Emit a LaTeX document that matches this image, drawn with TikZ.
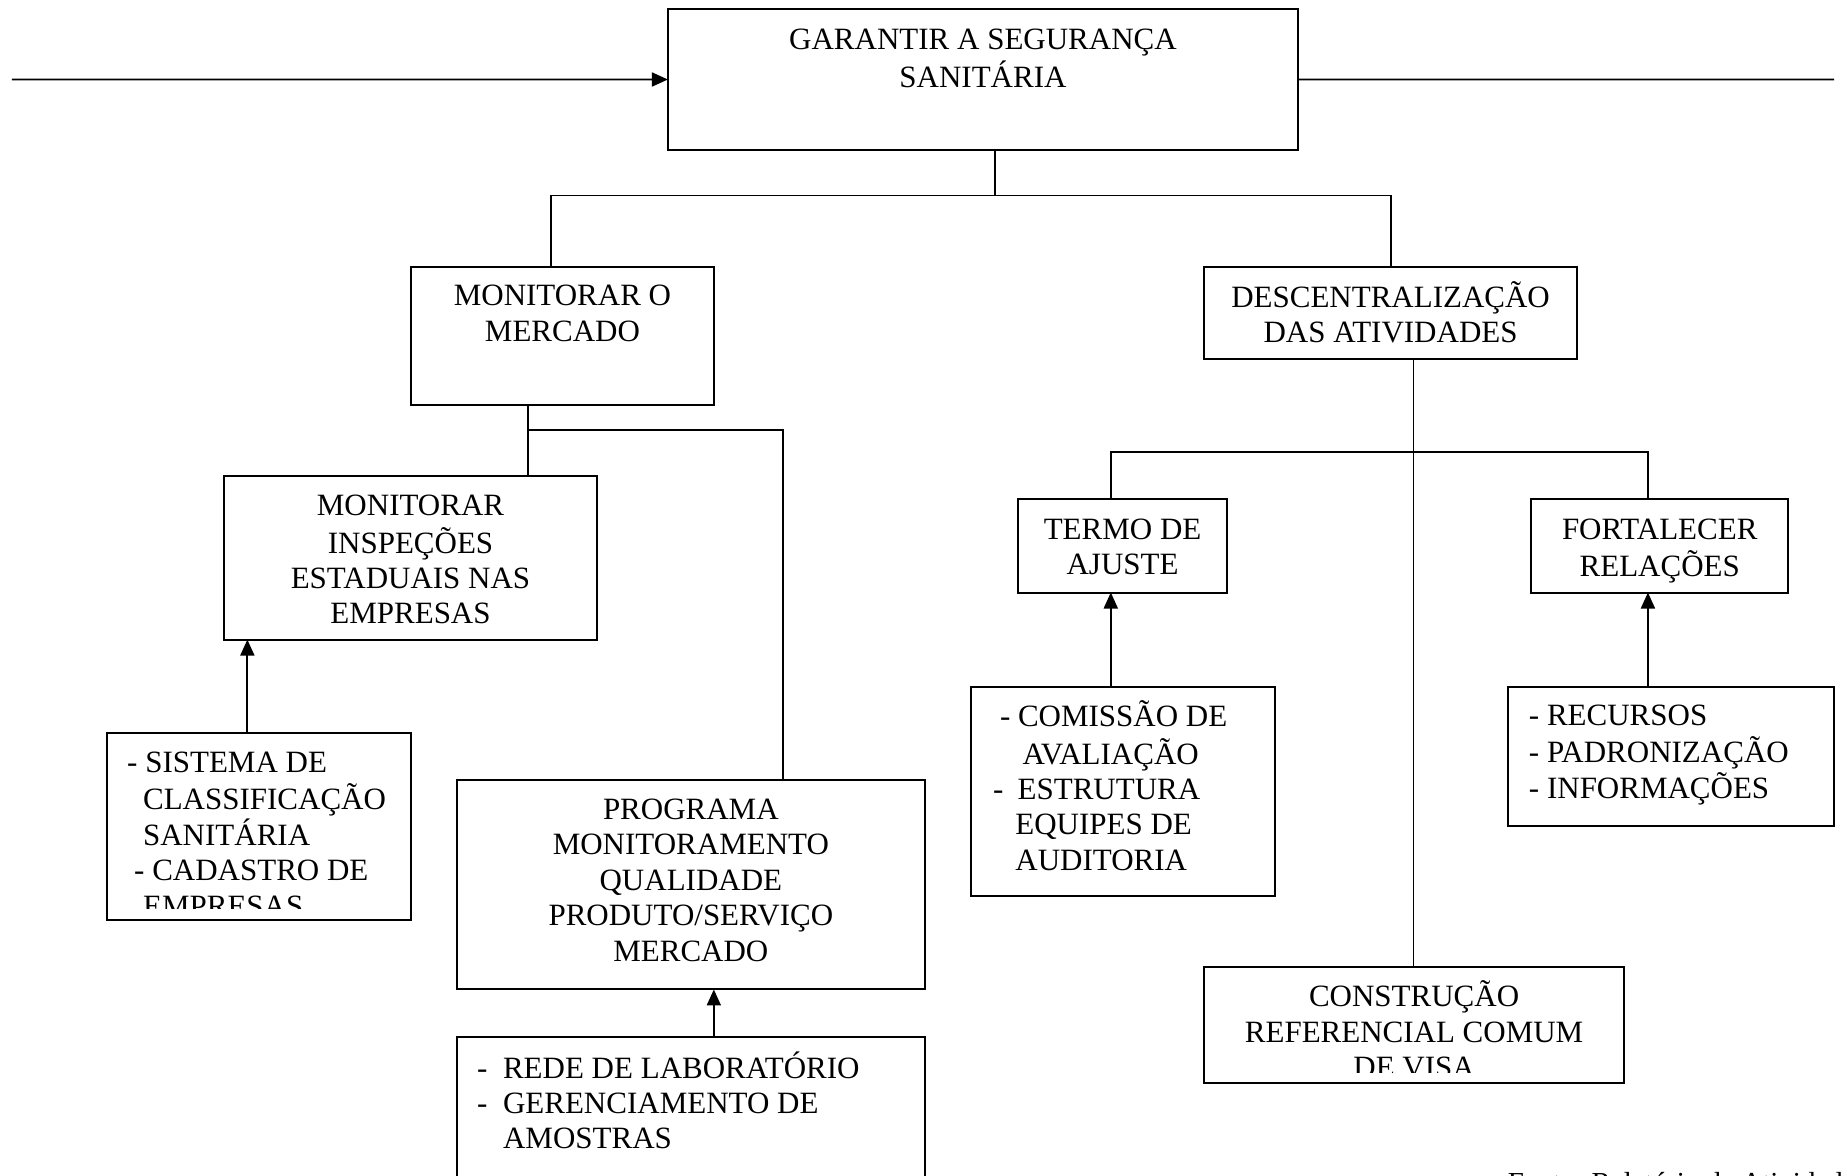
\documentclass[tikz,border=0pt]{standalone}
\usepackage{fontspec}
\setmainfont{Liberation Serif}
\usetikzlibrary{fit,arrows.meta}
\newcommand\bigfs{\fontsize{31}{35.4}\selectfont}
\newcommand\srcfs{\fontsize{29}{33}\selectfont}
\begin{document}
\begin{tikzpicture}[x=1.1779pt,y=-1.1779pt,
 box/.style={draw, line width=2pt, inner sep=0pt, outer sep=0pt},
 conn/.style={line width=1.9pt},
 arr/.style={line width=1.9pt, -{Triangle[length=16pt,width=14pt]}},
 txt/.style={inner sep=0pt, outer sep=0pt, font=\bigfs, align=center, anchor=north},
 ltxt/.style={inner sep=0pt, outer sep=0pt, font=\bigfs, align=left, anchor=north west}]
\clip (0,0) rectangle (1568,998);
% boxes
\node[box, fit={(567,8) (1102,127)}] (top) {};
\node[box, fit={(349,227) (606,344)}] (mm) {};
\node[box, fit={(1022,227) (1339,305)}] (desc) {};
\node[box, fit={(190,404) (507,543)}] (mi) {};
\node[box, fit={(91,622) (349,781)}] (sis) {};
\node[box, fit={(388,662) (785,840)}] (prog) {};
\node[box, fit={(388,880) (785,1020)}] (rede) {};
\node[box, fit={(864,424) (1042,503)}] (termo) {};
\node[box, fit={(1300,424) (1518,503)}] (fort) {};
\node[box, fit={(824,583) (1082,761)}] (com) {};
\node[box, fit={(1280,583) (1557,701)}] (rec) {};
\node[box, fit={(1022,821) (1379,919)}] (cons) {};
% texts
\node[txt] (ttop) at (834.5,20.7) {\strut GARANTIR A SEGURANÇA\\SANITÁRIA};
\node[txt] (tmm) at (477.5,238.7) {\strut MONITORAR O\\MERCADO};
\node[txt] (tdesc) at (1180.5,238.7) {\strut DESCENTRALIZAÇÃO\\DAS ATIVIDADES};
\node[txt] (tmi) at (348.5,416.7) {\strut MONITORAR\\INSPEÇÕES\\ESTADUAIS NAS\\EMPRESAS};
\node[txt] (tprog) at (586.5,674.7) {\strut PROGRAMA\\MONITORAMENTO\\QUALIDADE\\PRODUTO/SERVIÇO\\MERCADO};
\node[txt] (ttermo) at (953,436.7) {\strut TERMO DE\\AJUSTE};
\node[txt] (tfort) at (1409,436.7) {\strut FORTALECER\\RELAÇÕES};
\begin{scope}
\clip (1022,821) rectangle (1379,910.5);
\node[txt] (tcons) at (1200.5,832.7) {\strut CONSTRUÇÃO\\REFERENCIAL COMUM\\DE VISA};
\end{scope}
\begin{scope}
\clip (91,622) rectangle (349,771);
\node[ltxt] (tsis) at (108,634.7) {\strut - SISTEMA DE\\\hspace*{15.9pt}CLASSIFICAÇÃO\\\hspace*{15.9pt}SANITÁRIA\\\hspace*{7pt}- CADASTRO DE\\\hspace*{15.9pt}EMPRESAS};
\end{scope}
\node[ltxt] (trede) at (405,892.7) {\strut\makebox[26pt][l]{-}REDE DE LABORATÓRIO\\\makebox[26pt][l]{-}GERENCIAMENTO DE\\\hspace*{26pt}AMOSTRAS};
\node[ltxt] (tcom) at (843,594.7) {\strut\hspace*{7pt}- COMISSÃO DE\\\hspace*{29.5pt}AVALIAÇÃO\\\makebox[24.7pt][l]{-}ESTRUTURA\\\hspace*{22.4pt}EQUIPES DE\\\hspace*{22.4pt}AUDITORIA};
\node[ltxt] (trec) at (1298,594.7) {\strut - RECURSOS\\- PADRONIZAÇÃO\\- INFORMAÇÕES};
\node[inner sep=0pt, outer sep=0pt, font=\srcfs, anchor=base west] (src) at (1280,1012) {Fonte: Relatório de Atividades};
% helper coordinates
\coordinate (lin) at (10,67.5);
\coordinate (rout) at (1557,67.5);
\coordinate (jtop) at (845,166);
\coordinate (jmm) at (448,365);
\coordinate (jdesc) at (1200,384);
\coordinate (x468) at (468,0);
\coordinate (x665) at (665,0);
\coordinate (x210) at (210,0);
\coordinate (x606) at (606,0);
\coordinate (x943) at (943,0);
\coordinate (x1399) at (1399,0);
% connectors
\draw[arr] (lin) -- (top.west);
\draw[conn] (top.east) -- (rout);
\draw[conn] (top.south -| jtop) -- (jtop);
\draw[conn] (mm.north -| x468) |- (jtop) -| (desc.north);
\draw[conn] (mm.south -| jmm) -- (mi.north -| jmm);
\draw[conn] (jmm) -| (prog.north -| x665);
\draw[arr] (sis.north -| x210) -- (mi.south -| x210);
\draw[arr] (rede.north -| x606) -- (prog.south -| x606);
\draw[conn] (desc.south -| jdesc) -- (cons.north -| jdesc);
\draw[conn] (termo.north -| x943) |- (jdesc) -| (fort.north -| x1399);
\draw[arr] (com.north -| x943) -- (termo.south -| x943);
\draw[arr] (rec.north -| x1399) -- (fort.south -| x1399);
\end{tikzpicture}
\end{document}
